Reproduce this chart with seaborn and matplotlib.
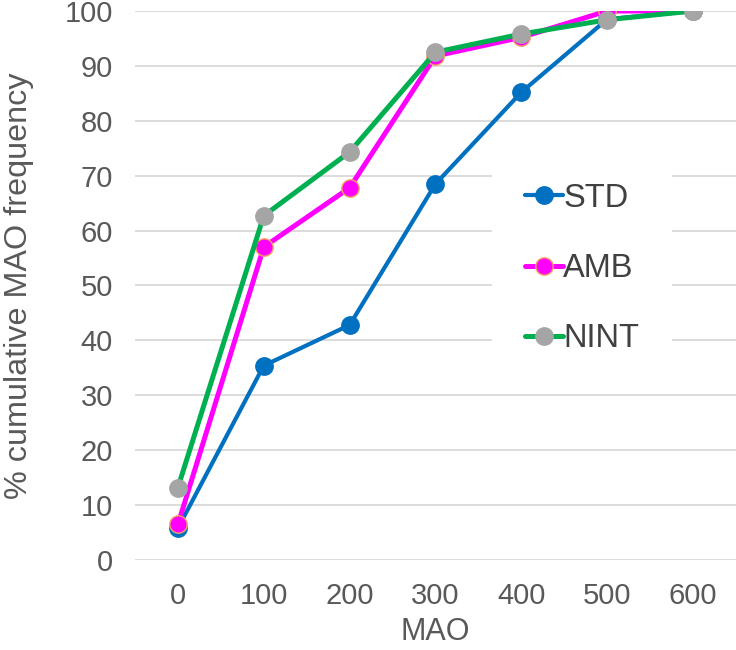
import pandas as pd
import numpy as np
import matplotlib
matplotlib.use('Agg')
import matplotlib.pyplot as plt
import seaborn as sns

# values
mao = [0, 100, 200, 300, 400, 500, 600]
std = [5.8, 35.4, 42.8, 68.5, 85.2, 98.5, 100]
amb = [6.5, 57.0, 67.8, 91.8, 95.2, 100, 100]
nint = [13.2, 62.7, 74.3, 92.5, 95.8, 98.4, 100]
series_names = ['STD', 'AMB', 'NINT']
y_ticks = [0, 10, 20, 30, 40, 50, 60, 70, 80, 90, 100]

# long-form table for seaborn
df = pd.DataFrame({
    'MAO': mao * 3,
    'pos': list(range(len(mao))) * 3,
    'value': std + amb + nint,
    'series': np.repeat(series_names, len(mao)),
})

styles = {
    'STD': dict(color='#0070C0', markerfacecolor='#0070C0', markeredgecolor='#0070C0', linewidth=3.0),
    'AMB': dict(color='#FF00FF', markerfacecolor='#FF00FF', markeredgecolor='#F4A460', linewidth=3.6),
    'NINT': dict(color='#00B050', markerfacecolor='#A5A5A5', markeredgecolor='#A5A5A5', linewidth=3.6),
}

sns.set_theme(style='white')
plt.rcParams['font.family'] = ['Liberation Sans', 'DejaVu Sans']

fig = plt.figure(figsize=(7.36, 6.5), dpi=100)
ax = fig.add_axes([0.1834, 0.1385, 0.8166, 0.8446])

for name in series_names:
    sub = df[df['series'] == name]
    sns.lineplot(data=sub, x='pos', y='value', ax=ax, marker='o', markersize=12.5,
                 markeredgewidth=1.0, label=name, **styles[name])

ax.set_xlim(-0.5, len(mao) - 0.5)
ax.set_ylim(0, 100)
ax.set_xticks(range(len(mao)))
ax.set_xticklabels([str(m) for m in mao])
ax.set_yticks(y_ticks)
ax.yaxis.grid(True, color='#D9D9D9', linewidth=1.3)
ax.xaxis.grid(False)
ax.set_axisbelow(True)
for s in ax.spines.values():
    s.set_visible(False)
ax.tick_params(axis='both', labelsize=21, colors='#595959', length=0)
ax.tick_params(axis='x', pad=16)
ax.tick_params(axis='y', pad=16)
ax.set_xlabel('MAO', fontsize=22, color='#595959', labelpad=5)
ax.set_ylabel('% cumulative MAO frequency', fontsize=23.3, color='#595959', labelpad=22)

leg = ax.legend(loc='center left', bbox_to_anchor=(0.669, 0.587), bbox_transform=fig.transFigure,
                frameon=True, facecolor='white', edgecolor='none', framealpha=1,
                fontsize=23.5, labelspacing=1.2, handlelength=1.15, handletextpad=0.02,
                borderpad=1.0, borderaxespad=0)
for t in leg.get_texts():
    t.set_color('#404040')

fig.savefig('out.png', dpi=100)
